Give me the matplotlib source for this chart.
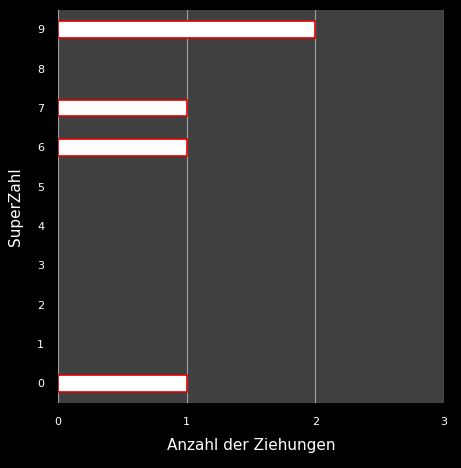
import matplotlib.pyplot as plt

superzahl = [0, 1, 2, 3, 4, 5, 6, 7, 8, 9]
ziehungen = [1, 0, 0, 0, 0, 0, 1, 1, 0, 2]

fig = plt.figure(figsize=(4.61, 4.68), dpi=100, facecolor="black")
ax = fig.add_axes([0.126, 0.139, 0.837, 0.84], facecolor="#404040")

widths = [1.2 if v > 0 else 0 for v in ziehungen]
ax.barh(superzahl, ziehungen, height=0.42, color="white", edgecolor="#e00000",
        linewidth=widths, zorder=3)

ax.set_xlim(0, 3)
ax.set_ylim(-0.5, 9.5)
ax.set_xticks([0, 1, 2, 3])
ax.set_yticks(superzahl)
ax.grid(axis="x", color="#a0a0a0", linewidth=0.8, zorder=1)
for s in ax.spines.values():
    s.set_visible(False)
ax.tick_params(colors="white", labelsize=8, length=0, pad=10)
ax.set_xlabel("Anzahl der Ziehungen", color="white", fontsize=11, labelpad=8)
ax.set_ylabel("SuperZahl", color="white", fontsize=11, labelpad=10)

fig.savefig("out.png", facecolor="black")
